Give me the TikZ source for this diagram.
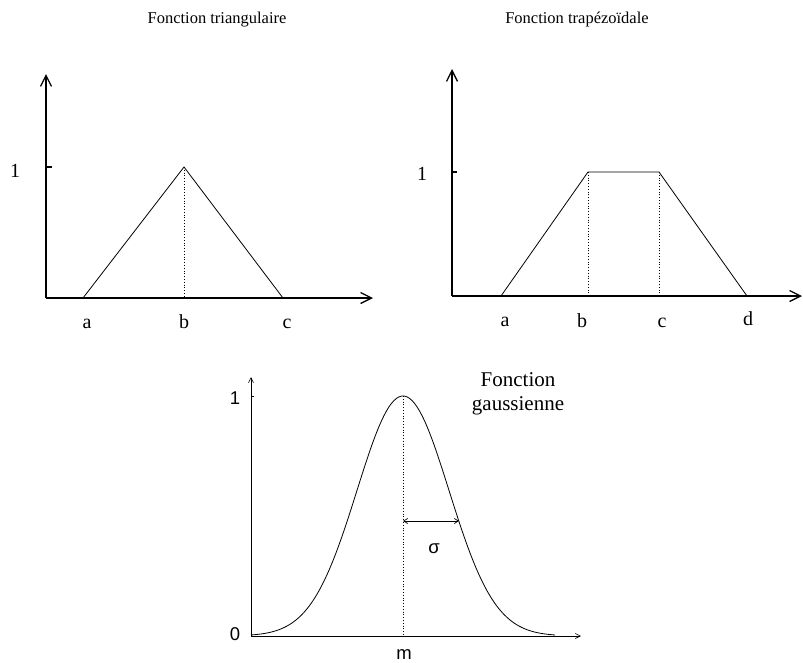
\documentclass[tikz,border=0pt]{standalone}
\usepackage{fontspec}
\setmainfont{Liberation Serif}
\newfontfamily\sansf{Liberation Sans}
\usetikzlibrary{arrows.meta}
\begin{document}
\begin{tikzpicture}[x=1pt,y=-1pt,
  axis/.style={line width=1.8pt,-{Straight Barb[length=11pt,width=11pt,line width=1.3pt]}},
  gaxis/.style={line width=0.6pt,-{Straight Barb[length=5pt,width=5pt,line width=0.6pt]}},
  fline/.style={line width=0.8pt},
  vdot/.style={line width=0.8pt,dotted},
  lbl/.style={font=\fontsize{20}{22}\selectfont,inner sep=0pt,anchor=base},
  slbl/.style={font=\sansf\fontsize{18.5}{20}\selectfont,inner sep=0pt,anchor=base},
  ttl/.style={font=\fontsize{16.5}{19}\selectfont,inner sep=0pt,anchor=base},
  gttl/.style={font=\fontsize{21}{24}\selectfont,inner sep=0pt,align=center}]
\useasboundingbox (0,0) rectangle (803,662);
% titles
\node[ttl] (t1) at (217,23) {Fonction triangulaire};
\node[ttl] (t2) at (577,23) {Fonction trapézoïdale};
\node[gttl] (t3) at (518,394) {Fonction\\gaussienne};
% ---- triangle
\coordinate (o1) at (46,298);
\coordinate (y1) at (46,74);
\coordinate (x1) at (373,298);
\draw[axis] (o1) -- (y1);
\draw[axis] (o1) -- (x1);
\coordinate (k1) at (52,167);
\draw[line width=1.5pt] (46,167) -- (k1);
\node[lbl] (one1) at (15,177) {1};
\coordinate (ta) at (83,298);
\coordinate (tb) at (184,167);
\coordinate (tbb) at (184,298);
\coordinate (tc) at (283,298);
\draw[fline] (ta) -- (tb) -- (tc);
\draw[vdot] (tb) -- (tbb);
\node[lbl] (la1) at (87,328) {a};
\node[lbl] (lb1) at (184,328) {b};
\node[lbl] (lc1) at (287,328) {c};
% ---- trapezoid
\coordinate (o2) at (452,296);
\coordinate (y2) at (452,69);
\coordinate (x2) at (802,296);
\draw[axis] (o2) -- (y2);
\draw[axis] (o2) -- (x2);
\draw[line width=1.5pt] (452,172) -- (457,172);
\node[lbl] (one2) at (422,180) {1};
\coordinate (pa) at (501,296);
\coordinate (pb) at (588,172);
\coordinate (pc) at (659,172);
\coordinate (pd) at (747,296);
\coordinate (pbb) at (588,296);
\coordinate (pcc) at (659,296);
\draw[fline] (pa) -- (pb) -- (pc) -- (pd);
\draw[vdot] (pb) -- (pbb);
\draw[vdot] (pc) -- (pcc);
\node[lbl] (la2) at (505,326) {a};
\node[lbl] (lb2) at (582,327) {b};
\node[lbl] (lc2) at (662,327) {c};
\node[lbl] (ld2) at (748,325) {d};
% ---- gaussian
\coordinate (o3) at (251,636);
\coordinate (y3) at (251,377);
\coordinate (x3) at (581,636);
\draw[gaxis] (o3) -- (y3);
\draw[gaxis] (o3) -- (x3);
\draw[line width=0.6pt] (251,396) -- (254,396);
\node[slbl] (one3) at (235,404) {1};
\node[slbl] (zero3) at (235,640) {0};
\draw[fline,domain=-152:152,samples=120,smooth] plot ({403+\x},{636-240*exp(-0.5*(\x/46)*(\x/46))});
\coordinate (gm) at (403,396);
\coordinate (gmm) at (403,636);
\draw[vdot] (gm) -- (gmm);
\coordinate (s1) at (403,521);
\coordinate (s2) at (459,521);
\draw[line width=0.7pt,{Straight Barb[length=4pt,width=5pt]}-{Straight Barb[length=4pt,width=5pt]}] (s1) -- (s2);
\node[slbl] (sig) at (434,553) {σ};
\node[slbl] (lm) at (404,659) {m};
\end{tikzpicture}
\end{document}
